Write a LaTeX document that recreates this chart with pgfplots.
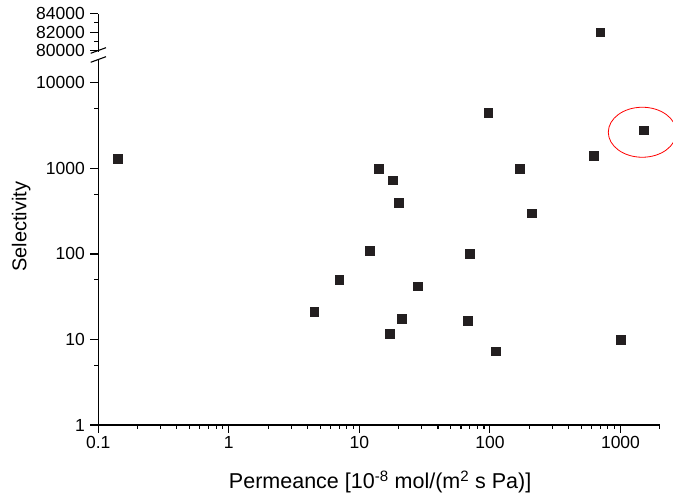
\documentclass[border=0pt]{standalone}
\usepackage{fontspec}
\setmainfont{Liberation Sans}
\usepackage{pgfplots}
\pgfplotsset{compat=1.18}
\definecolor{ptc}{HTML}{231F20}
\pgfplotstableread{
x y
0.14 1300
4.5 21
7 50
12 110
14 1000
17 11.7
18 730
20 400
21 17.5
28 42
68 16.6
70 100
97 4500
110 7.3
170 1000
210 300
620 1400
1000 10
1500 2800
}\lowdata
\pgfplotstableread{
x y
700 82000
}\topdata
\begin{document}
\begin{tikzpicture}[x=1pt,y=1pt]
\begin{axis}[scale only axis, width=561.5pt, height=365.5pt,
  at={(0pt,0pt)}, anchor=south west,
  xmode=log, xmin=0.1, xmax=2000,
  ymode=log, ymin=1, ymax=18800,
  axis x line=bottom, axis y line=left,
  axis line style={-, line width=1.1pt, black},
  tick style={line width=1.1pt, black},
  tick align=outside, major tick length=8pt, minor tick length=4pt,
  tick label style={font=\fontsize{17.5}{21}\selectfont},
  yticklabel style={xshift=-2pt},
  clip=false,
  xtick={0.1,1,10,100,1000}, xticklabels={0.1,1,10,100,1000},
  minor xtick={0.2,0.3,0.4,0.5,0.6,0.7,0.8,0.9,2,3,4,5,6,7,8,9,20,30,40,50,60,70,80,90,200,300,400,500,600,700,800,900,2000},
  ytick={1,10,100,1000,10000}, yticklabels={1,10,100,1000,10000},
  minor ytick={5,50,500,5000},
  xlabel={Permeance [10\textsuperscript{-8} mol/(m\textsuperscript{2} s Pa)]},
  ylabel={Selectivity},
  xlabel style={font=\fontsize{21.5}{25}\selectfont, at={(axis description cs:0.502,0)}, anchor=base, yshift=-64pt},
  ylabel style={font=\fontsize{20}{24}\selectfont, at={(axis description cs:-0.128,0.542)}, anchor=base},
]
\addplot[only marks, mark=square*, mark size=4.4pt, color=ptc] table {\lowdata};
\draw[red, line width=0.8pt] (axis cs:1469,2650) ellipse [x radius=34pt, y radius=25pt];
\end{axis}
\begin{axis}[scale only axis, width=561.5pt, height=37.9pt,
  at={(0pt,373.4pt)}, anchor=south west,
  xmode=log, xmin=0.1, xmax=2000,
  ymin=79900, ymax=84000,
  axis y line=left, hide x axis,
  axis line style={-, line width=1.1pt, black},
  tick style={line width=1.1pt, black},
  tick align=outside, major tick length=8pt, minor tick length=4pt,
  tick label style={font=\fontsize{17.5}{21}\selectfont},
  yticklabel style={xshift=-2pt},
  scaled y ticks=false,
  clip=false,
  ytick={80000,82000,84000}, yticklabels={80000,82000,84000},
  minor ytick={81000,83000},
]
\addplot[only marks, mark=square*, mark size=4.4pt, color=ptc] table {\topdata};
\end{axis}
\draw[line width=1.1pt] (-7.6pt,371.7pt) -- (7.7pt,377.3pt);
\draw[line width=1.1pt] (-7.6pt,362.7pt) -- (7.7pt,368.3pt);
\pgfresetboundingbox
\path[use as bounding box] (-98.3pt,-72pt) rectangle (574.7pt,425pt);
\end{tikzpicture}
\end{document}
